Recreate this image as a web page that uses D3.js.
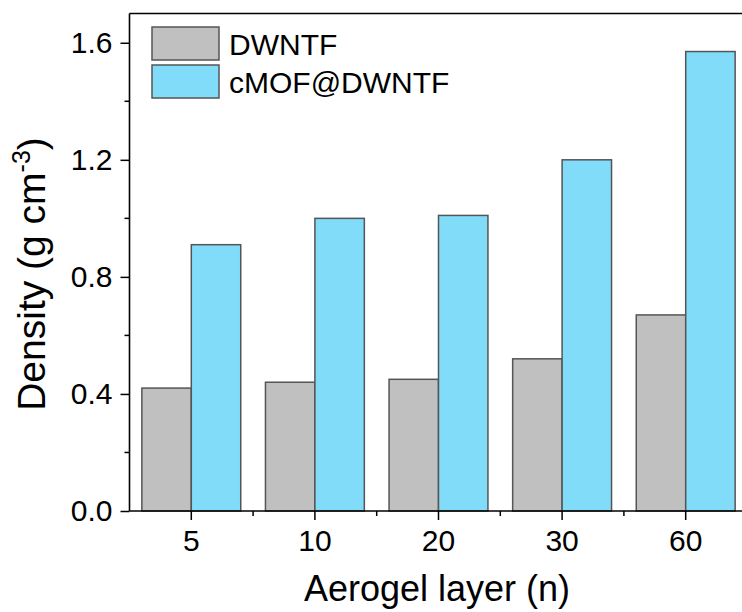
<!DOCTYPE html>
<html>
<head>
<meta charset="utf-8">
<script src="https://cdn.jsdelivr.net/npm/d3@7/dist/d3.min.js"></script>
<style>
  html, body { margin: 0; padding: 0; background: #fff; }
  svg { display: block; font-family: "Liberation Sans", Arial, sans-serif; }
</style>
</head>
<body>
<svg id="chart" width="742" height="612"></svg>
<script>
// Density of aerogels by number of layers
const layers = ["5", "10", "20", "30", "60"];
const seriesNames = ["DWNTF", "cMOF@DWNTF"];
const dwntf = [0.42, 0.44, 0.45, 0.52, 0.67];
const cmofDwntf = [0.91, 1.00, 1.01, 1.20, 1.57];
const yTicks = [0.0, 0.4, 0.8, 1.2, 1.6];
const yMinorTicks = [0.2, 0.6, 1.0, 1.4];
const colors = ["#c0c0c0", "#80dcf8"];

const svg = d3.select("#chart");
const plotLeft = 129.5, plotRight = 747.5, plotTop = 13.5, plotBottom = 511;

const x = d3.scaleBand().domain(layers).range([plotLeft, plotRight]).paddingInner(0.2).paddingOuter(0.1);
const xSub = d3.scaleBand().domain(seriesNames).range([0, x.bandwidth()]);
const y = d3.scaleLinear().domain([0, 1.7]).range([plotBottom, plotTop]);

const series = [dwntf, cmofDwntf];

// bars
series.forEach((vals, si) => {
  svg.append("g").selectAll("rect")
    .data(vals)
    .join("rect")
    .attr("x", (d, i) => x(layers[i]) + xSub(seriesNames[si]))
    .attr("y", d => y(d))
    .attr("width", xSub.bandwidth())
    .attr("height", d => y(0) - y(d))
    .attr("fill", colors[si])
    .attr("stroke", "#555")
    .attr("stroke-width", 1.5);
});

// frame: top line
svg.append("line").attr("x1", plotLeft).attr("x2", 742).attr("y1", plotTop).attr("y2", plotTop)
  .attr("stroke", "#000").attr("stroke-width", 1.6);

// y axis
const yAxis = d3.axisLeft(y).tickValues(yTicks).tickFormat(d3.format(".1f")).tickSize(9).tickPadding(8);
const gy = svg.append("g").attr("transform", `translate(${plotLeft},0)`).call(yAxis);
gy.select(".domain").attr("stroke-width", 1.6).attr("d", `M0,${plotTop}V${plotBottom}`);
gy.selectAll(".tick line").attr("stroke-width", 1.5);
gy.selectAll(".tick text").attr("font-size", 30).attr("fill", "#000");
svg.append("g").selectAll("line").data(yMinorTicks).join("line")
  .attr("x1", plotLeft - 5).attr("x2", plotLeft).attr("y1", d => y(d)).attr("y2", d => y(d))
  .attr("stroke", "#000").attr("stroke-width", 1.5);

// x axis
const xAxis = d3.axisBottom(x).tickSize(9).tickPadding(10);
const gx = svg.append("g").attr("transform", `translate(0,${plotBottom})`).call(xAxis);
gx.select(".domain").attr("stroke-width", 1.6).attr("d", `M${plotLeft},0H742`);
gx.selectAll(".tick line").attr("stroke-width", 1.5);
gx.selectAll(".tick text").attr("font-size", 30).attr("fill", "#000");
const step = x.step();
svg.append("g").selectAll("line").data(layers.slice(1))
  .join("line")
  .attr("x1", d => x(d) - (step - x.bandwidth()) / 2)
  .attr("x2", d => x(d) - (step - x.bandwidth()) / 2)
  .attr("y1", plotBottom).attr("y2", plotBottom + 5)
  .attr("stroke", "#000").attr("stroke-width", 1.5);

// axis titles
svg.append("text").attr("x", 437).attr("y", 601).attr("text-anchor", "middle")
  .attr("font-size", 36).text("Aerogel layer (n)");
const yt = svg.append("text").attr("transform", "translate(45,274) rotate(-90)")
  .attr("text-anchor", "middle").attr("font-size", 39);
yt.append("tspan").text("Density (g cm");
yt.append("tspan").attr("dy", -15).attr("font-size", 25).text("-3");
yt.append("tspan").attr("dy", 15).text(")");

// legend
const lg = svg.append("g");
seriesNames.forEach((name, i) => {
  const yy = 27 + i * 38;
  lg.append("rect").attr("x", 152).attr("y", yy).attr("width", 67).attr("height", 33)
    .attr("fill", colors[i]).attr("stroke", "#555").attr("stroke-width", 1.5);
  lg.append("text").attr("x", 229).attr("y", yy + 28).attr("font-size", 30).text(name);
});
</script>
</body>
</html>
